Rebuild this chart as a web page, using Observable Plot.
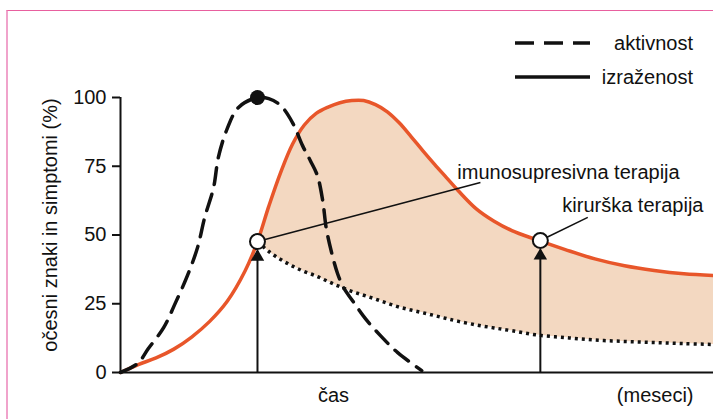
<!DOCTYPE html>
<html><head><meta charset="utf-8">
<script src="https://cdn.jsdelivr.net/npm/d3@7"></script>
<script src="https://cdn.jsdelivr.net/npm/@observablehq/plot@0.6"></script>
<style>
body{margin:0;background:#fff;}
#wrap{position:relative;width:713px;height:419px;overflow:hidden;font-family:"Liberation Sans",Arial,sans-serif;}
#frame{position:absolute;left:6px;top:10px;right:-10px;bottom:-10px;border-top:1.5px solid #e8609f;border-left:2px solid #f0a3cb;}
#chart{position:absolute;left:0;top:0;}
#legend{position:absolute;left:0;top:0;}
</style></head><body>
<div id="wrap"><div id="frame"></div><div id="chart"></div><svg id="legend" width="713" height="100"></svg></div>
<script>
// time (relative units 0..100 of the shown span)
const T = [0,3,6,9,12,15,18,21,23.1,25,27,29,31,33,35,37,39,41,43,45,47,49,51,53,55,57,60,63,66,70,75,80,85,90,95,100];
// izraženost (%), solid orange curve
const izrazenost = [0,2.9,5.3,8.5,12.9,18.5,25.9,36.9,47.6,60.4,72.7,83.0,90.0,94.2,96.5,98.1,98.9,98.9,97.4,94.8,90.8,85.8,80.6,75.6,70.8,66.0,59.5,55.0,51.6,48.4,44.7,41.3,38.8,37.1,35.9,35.3];
// after therapy (dotted), from T index 8 on
const poTerapiji = [47.6,44.0,41.1,38.7,36.7,35.1,33.1,31.2,29.5,28.1,26.7,25.2,23.8,22.7,21.7,20.7,19.6,18.6,17.3,16.2,15.2,13.7,12.7,11.8,11.3,10.9,10.5,10.2];
// aktivnost (%), dashed curve
const Ta = [0,2.9,4.7,7.3,9.3,11.3,13.0,14.2,15.7,16.5,18.0,19.9,23.1,25.0,27.0,29.0,30.7,32.0,33.2,34.1,34.7,35.6,36.6,37.6,39.1,41.3,43.8,46.7,50.8];
const aktivnost = [0,3.3,8.7,16.4,25.5,35.3,45.5,56.4,67.3,78.2,88.7,96.4,100,99.6,97.1,90.9,82.5,77.1,71.6,62.5,52.4,43.6,36.0,30.9,26.2,19.6,13.5,7.3,0.7];
// therapy points
const terapijaT = [23.1, 70.8];
const terapijaV = [47.6, 48.0];
const terapijaLabel = ["imunosupresivna terapija", "kirurška terapija"];
const labelT = [56.8, 74.5];
const labelV = [72.7, 60.7];
const leaderT = [60.7, 78.8];
const leaderV = [69.1, 56.4];
const yTicks = [0,25,50,75,100];
const yLabel = "očesni znaki in simptomi (%)";
const xLabel = "čas";
const xUnit = "(meseci)";
const legendItems = [{label:"aktivnost", dash:"19,10"},{label:"izraženost", dash:null}];

const ORANGE = "#e8562a", FILL = "#f3d8c1", INK = "#111";
const solid = T.map((t,i)=>({t, v: izrazenost[i]}));
const offset = T.length - poTerapiji.length;
const dotted = poTerapiji.map((v,i)=>({t: T[i+offset], v}));
const band = dotted.map((d,i)=>({t: d.t, lo: d.v, hi: izrazenost[i+offset]}));
const dashed = Ta.map((t,i)=>({t, v: aktivnost[i]}));
const peak = d3.greatest(dashed, d=>d.v);
const ther = terapijaT.map((t,i)=>({t, v: terapijaV[i], label: terapijaLabel[i], lt: labelT[i], lv: labelV[i], et: leaderT[i], ev: leaderV[i]}));
const font = '"Liberation Sans", Arial, sans-serif';

const chart = Plot.plot({
  width: 713, height: 419,
  marginLeft: 120, marginRight: 0, marginTop: 97, marginBottom: 47,
  x: {domain: [0,100], axis: null},
  y: {domain: [0,100], axis: null},
  style: {fontFamily: font, fontSize: "20px", color: INK, overflow: "visible", background: "transparent"},
  marks: [
    Plot.areaY(band, {x: "t", y1: "lo", y2: "hi", fill: FILL, curve: "catmull-rom"}),
    Plot.line(dotted, {x: "t", y: "v", stroke: INK, strokeWidth: 3.5, strokeDasharray: "3,4", strokeLinecap: "butt", curve: "catmull-rom"}),
    Plot.line(solid, {x: "t", y: "v", stroke: ORANGE, strokeWidth: 3.5, curve: "catmull-rom"}),
    Plot.line(dashed, {x: "t", y: "v", stroke: INK, strokeWidth: 3.5, strokeDasharray: "17,10", curve: "catmull-rom"}),
    Plot.ruleX([0], {stroke: INK, strokeWidth: 2}),
    Plot.ruleY([0], {stroke: INK, strokeWidth: 2}),
    Plot.axisY(yTicks, {tickSize: 8, tickPadding: 6, strokeWidth: 2, fontSize: 20, label: null, fill: INK}),
    Plot.link(ther, {x1: "t", y1: "v", x2: "et", y2: "ev", stroke: INK, strokeWidth: 1.6}),
    Plot.ruleX(ther, {x: "t", y1: 0, y2: d => d.v - 3.5, stroke: INK, strokeWidth: 2}),
    Plot.dot(ther, {x: "t", y: d => d.v - 2.7, symbol: "triangle", r: 5, fill: INK, stroke: "none", dy: 7.8}),
    Plot.dot(ther, {x: "t", y: "v", r: 7.5, fill: "white", stroke: INK, strokeWidth: 2}),
    Plot.dot([peak], {x: "t", y: "v", r: 7.5, fill: INK}),
    Plot.text(ther, {x: "lt", y: "lv", text: "label", textAnchor: "start", fontSize: 20, fill: INK}),
    Plot.text([yLabel], {frameAnchor: "left", text: d => d, rotate: -90, textAnchor: "middle", lineAnchor: "middle", dx: -70, dy: -10, fontSize: 20, fill: INK}),
    Plot.text([xLabel], {frameAnchor: "bottom-left", text: d => d, textAnchor: "middle", lineAnchor: "middle", dx: 213, dy: 23, fontSize: 20, fill: INK}),
    Plot.text([xUnit], {frameAnchor: "bottom-right", text: d => d, textAnchor: "end", lineAnchor: "middle", dx: -20, dy: 23, fontSize: 20, fill: INK})
  ]
});
document.getElementById("chart").append(chart);

const leg = d3.select("#legend");
const g = leg.selectAll("g").data(legendItems).join("g").attr("transform", (d,i)=>`translate(0,${43 + i*34})`);
g.append("line").attr("x1", 515).attr("x2", 590).attr("y1", 0).attr("y2", 0)
  .attr("stroke", INK).attr("stroke-width", 3.5).attr("stroke-dasharray", d => d.dash);
g.append("text").attr("x", 693).attr("y", 0).attr("dy", "0.35em").attr("text-anchor", "end")
  .attr("font-family", font).attr("font-size", 20).attr("fill", INK).text(d => d.label);
</script>
</body></html>
